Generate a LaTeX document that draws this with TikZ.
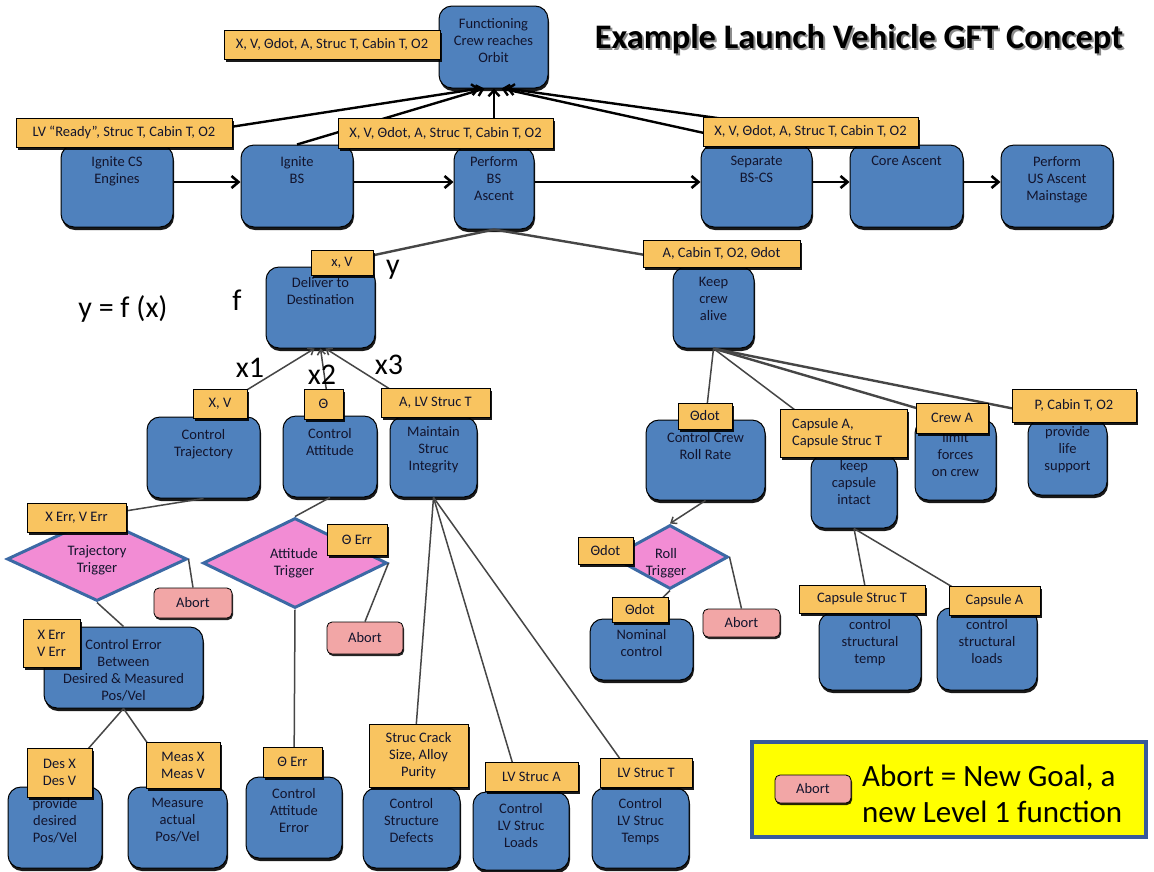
\documentclass[tikz,border=0pt]{standalone}
\usepackage{fontspec}
\setmainfont{Carlito}
\usetikzlibrary{shapes.geometric,fit,shadows,arrows.meta,calc}
\definecolor{boxblue}{RGB}{79,129,189}
\definecolor{lblorange}{RGB}{249,196,96}
\definecolor{diapink}{RGB}{242,140,212}
\definecolor{diaborder}{RGB}{60,105,165}
\definecolor{abortpink}{RGB}{242,166,166}
\definecolor{legyellow}{RGB}{255,255,0}
\definecolor{legborder}{RGB}{55,90,155}
\definecolor{txtdark}{RGB}{18,20,45}
\definecolor{linegray}{RGB}{70,70,70}
\newcommand\BlueBox[7]{\node[bluebox, fit={(#2,#3) (#4,#5)}] (#1) {};
  \node[btext, anchor=north] (#1-t) at ({(#2+#4)/2},{#6-7}) {#7};}
\newcommand\OrLabel[6]{\node[lbl, fit={(#2,#3) (#4,#5)}] (#1) {};
  \node[ltext] (#1-t) at (#1.center) {#6};}
\newcommand\AbortBox[5]{\node[abortbox, fit={(#2,#3) (#4,#5)}] (#1) {};
  \node[ltext] (#1-t) at (#1.center) {Abort};}
\begin{document}
\begin{tikzpicture}[x=1pt,y=-1pt,
  bluebox/.style={draw=black, line width=1pt, fill=boxblue, rounded corners=13pt, inner sep=0pt,
     drop shadow={shadow xshift=1pt,shadow yshift=-3pt,opacity=0.9,fill=black}},
  btext/.style={font=\fontsize{14.5}{17}\selectfont, align=center, inner sep=0pt, text=txtdark},
  lbl/.style={draw=black, line width=1pt, fill=lblorange, inner sep=0pt,
     drop shadow={shadow xshift=1.5pt,shadow yshift=-2.5pt,opacity=0.9,fill=black}},
  ltext/.style={font=\fontsize{14.5}{17}\selectfont, align=center, inner sep=0pt, text=txtdark},
  abortbox/.style={draw=black, line width=0.8pt, fill=abortpink, rounded corners=5pt, inner sep=0pt,
     drop shadow={shadow xshift=1pt,shadow yshift=-2pt,opacity=0.85,fill=black}},
  dia/.style={shape=diamond, draw=diaborder, line width=3pt, fill=diapink, inner sep=0pt},
  mathlbl/.style={font=\fontsize{30}{34}\selectfont, inner sep=0pt},
  conn/.style={draw=linegray, line width=1.5pt},
  thickconn/.style={draw=linegray, line width=2.4pt},
  toparrow/.style={draw=black, line width=2.4pt, -{Straight Barb[length=6pt,width=11pt]}},
  rowarrow/.style={draw=black, line width=2.6pt, -{Straight Barb[length=7pt,width=12pt]}},
  smallarrow/.style={draw=linegray, line width=1.5pt, -{Straight Barb[length=5pt,width=8pt]}}
]
\fill[white] (0,0) rectangle (1154,871);
\useasboundingbox (0,0) rectangle (1154,871);

% title
\node[font=\bfseries\fontsize{34.4}{40}\selectfont, text=black!45, inner sep=0pt] (title-s) at (861,41) {Example Launch Vehicle GFT Concept};
\node[font=\bfseries\fontsize{34.4}{40}\selectfont, text=black, inner sep=0pt] (title) at (859,39) {Example Launch Vehicle GFT Concept};

% blue boxes
\BlueBox{func}{439}{6}{548}{88}{25}{Functioning\\Crew reaches\\Orbit}
\BlueBox{igcs}{61}{145}{173}{227}{163}{Ignite CS\\Engines}
\BlueBox{igbs}{241}{145}{353}{227}{163}{Ignite\\BS}
\BlueBox{pbs}{454}{147}{534}{229}{163}{Perform\\BS\\Ascent}
\BlueBox{sep}{701}{145}{812}{227}{163}{Separate\\BS-CS}
\BlueBox{core}{850}{145}{963}{227}{163}{Core Ascent}
\BlueBox{pus}{1001}{145}{1113}{227}{163}{Perform\\US Ascent\\Mainstage}
\BlueBox{deliver}{266}{267}{375}{348}{284}{Deliver to\\Destination}
\BlueBox{keep}{673}{267}{754}{348}{284}{Keep\\crew\\alive}
\BlueBox{ctraj}{147}{417}{260}{498}{436}{Control\\Trajectory}
\BlueBox{catt}{283}{416}{377}{497}{435}{Control\\Attitude}
\BlueBox{mstruc}{390}{417}{477}{497}{433}{Maintain\\Struc\\Integrity}
\BlueBox{roll}{646}{420}{765}{500}{439}{Control Crew\\Roll Rate}
\BlueBox{capint}{811}{455}{897}{528}{467}{keep\\capsule\\intact}
\BlueBox{limit}{915}{420}{996}{500}{439}{limit\\forces\\on crew}
\BlueBox{life}{1028}{420}{1107}{495}{433}{provide\\life\\support}
\BlueBox{cerr}{44}{627}{203}{708}{646}{Control Error\\Between\\Desired \& Measured\\Pos/Vel}
\BlueBox{pdes}{8}{787}{102}{868}{805}{provide\\desired\\Pos/Vel}
\BlueBox{meas}{128}{787}{227}{868}{805}{Measure\\actual\\Pos/Vel}
\BlueBox{caerr}{246}{777}{342}{858}{795}{Control\\Attitude\\Error}
\BlueBox{csd}{363}{788}{460}{868}{805}{Control\\Structure\\Defects}
\BlueBox{cll}{473}{792}{569}{870}{810}{Control\\LV Struc\\Loads}
\BlueBox{clt}{592}{788}{689}{868}{805}{Control\\LV Struc\\Temps}
\BlueBox{nom}{590}{619}{693}{680}{636}{Nominal\\control}
\BlueBox{cst}{819}{613}{921}{690}{626}{control\\structural\\temp}
\BlueBox{csl}{937}{608}{1037}{690}{626}{control\\structural\\loads}

% diamonds
\node[dia, minimum width=180pt, minimum height=84pt] (trajtrig) at (97,559) {};
\node[btext] (trajtrig-t) at (97,560) {Trajectory\\Trigger};
\node[dia, minimum width=184pt, minimum height=90pt] (atttrig) at (295,563) {};
\node[btext] (atttrig-t) at (294,563) {Attitude\\Trigger};
\node[dia, minimum width=116pt, minimum height=64pt] (rolltrig) at (670,557) {};
\node[btext] (rolltrig-t) at (666,563) {Roll\\Trigger};

% aborts
\AbortBox{abort1}{154}{588}{232}{618}
\AbortBox{abort2}{327}{622}{403}{654}
\AbortBox{abort3}{703}{609}{780}{637}

% connectors to top goal
\draw[toparrow] (igcs.north) -- ($(func.south)+(-14,0)$);
\draw[toparrow] (igbs.north) -- ($(func.south)+(-9,0)$);
\draw[toparrow] (pbs.north) -- (pbs.north |- func.south);
\draw[toparrow] (sep.north) -- ($(func.south)+(8,0)$);
\draw[toparrow] (core.north) -- ($(func.south)+(13,0)$);
% row arrows
\draw[rowarrow] ($(igcs.east)+(0,-4)$) -- ($(igbs.west)+(0,-4)$);
\draw[rowarrow] ($(igbs.east)+(0,-4)$) -- ($(igbs.east -| pbs.west)+(0,-4)$);
\draw[rowarrow] ($(pbs.east |- igbs.east)+(0,-4)$) -- ($(igbs.east -| sep.west)+(0,-4)$);
\draw[rowarrow] ($(sep.east)+(0,-4)$) -- ($(core.west)+(0,-4)$);
\draw[rowarrow] ($(core.east)+(0,-4)$) -- ($(pus.west)+(0,-4)$);
% middle
\draw[thickconn] (pbs.south) -- (deliver.north);
\draw[thickconn] (pbs.south) -- (keep.north);
\draw[smallarrow] (ctraj.north) -- ($(deliver.south)+(-6,0)$);
\draw[smallarrow] (catt.north) -- (deliver.south);
\draw[smallarrow] (mstruc.north) -- ($(deliver.south)+(5,0)$);
\draw[conn] (keep.south) -- (roll.north);
\draw[conn] (keep.south) -- (capint.north);
\draw[thickconn] (keep.south) -- (limit.north);
\draw[thickconn] (keep.south) -- (life.north);
\draw[conn] (ctraj.south) -- (trajtrig.north);
\draw[conn] (catt.south) -- (atttrig.north);
\draw[conn] (trajtrig.east) -- (abort1.north);
\draw[conn] (trajtrig.south) -- (cerr.north);
\draw[conn] (atttrig.east) -- (abort2.north);
\draw[conn] (atttrig.south) -- (caerr.north);
\draw[conn] (cerr.south) -- (pdes.north);
\draw[conn] (cerr.south) -- (meas.north);
\draw[conn] (mstruc.south) -- (csd.north);
\draw[conn] (mstruc.south) -- (cll.north);
\draw[conn] (mstruc.south) -- (clt.north);
\draw[smallarrow] (roll.south) -- (rolltrig.north);
\draw[conn] (rolltrig.south) -- (nom.north);
\draw[conn] (rolltrig.east) -- (abort3.north);
\draw[conn] (capint.south) -- (cst.north);
\draw[conn] (capint.south) -- (csl.north);

% labels
\OrLabel{lfunc}{224}{30}{440}{59}{X, V, Θdot, A, Struc T, Cabin T, O2}
\OrLabel{lready}{16}{118}{232}{147}{LV “Ready”, Struc T, Cabin T, O2}
\OrLabel{lpbs}{338}{118}{553}{148}{X, V, Θdot, A, Struc T, Cabin T, O2}
\OrLabel{lsep}{703}{117}{918}{146}{X, V, Θdot, A, Struc T, Cabin T, O2}
\OrLabel{ldel}{311}{250}{373}{275}{x, V}
\OrLabel{lkeep}{643}{240}{800}{267}{A, Cabin T, O2, Θdot}
\OrLabel{lctraj}{193}{389}{247}{418}{X, V}
\OrLabel{lcatt}{304}{389}{343}{419}{Θ}
\OrLabel{lmstruc}{381}{388}{490}{417}{A, LV Struc T}
\OrLabel{lroll}{678}{403}{732}{429}{Θdot}
\node[lbl, fit={(780,409) (907,457)}] (lcapint) {};
\node[ltext, align=left, anchor=west] (lcapint-t) at (792,433) {Capsule A,\\Capsule Struc T};
\OrLabel{llimit}{916}{403}{988}{433}{Crew A}
\OrLabel{llife}{1012}{389}{1136}{422}{P, Cabin T, O2}
\OrLabel{ltraj}{27}{503}{126}{532}{X Err, V Err}
\OrLabel{latt}{327}{524}{387}{555}{Θ Err}
\OrLabel{lcerr}{23}{619}{80}{667}{X Err\\V Err}
\OrLabel{lpdes}{27}{748}{92}{797}{Des X\\Des V}
\OrLabel{lmeas}{146}{742}{220}{788}{Meas X\\Meas V}
\OrLabel{lcaerr}{263}{747}{322}{777}{Θ Err}
\OrLabel{lcsd}{369}{724}{468}{787}{Struc Crack\\Size, Alloy\\Purity}
\OrLabel{lcll}{485}{762}{578}{791}{LV Struc A}
\OrLabel{lclt}{600}{758}{692}{787}{LV Struc T}
\OrLabel{lrolltrig}{578}{537}{633}{564}{Θdot}
\OrLabel{lnom}{612}{597}{668}{622}{Θdot}
\OrLabel{lcst}{799}{585}{925}{613}{Capsule Struc T}
\OrLabel{lcsl}{949}{586}{1040}{615}{Capsule A}

% y = f(x) annotations
\node[mathlbl] (yfx) at (123,309) {y = f (x)};
\node[mathlbl] (fsym) at (237,300) {f};
\node[mathlbl] (ysym) at (393,270) {y};
\node[mathlbl] (x1) at (250,368) {x1};
\node[mathlbl] (x2) at (322,375) {x2};
\node[mathlbl] (x3) at (389,365) {x3};

% legend
\node[fill=legyellow, draw=legborder, line width=4pt, inner sep=0pt, fit={(752,742) (1146,837)}] (legend) {};
\AbortBox{abortleg}{775}{775}{851}{803}
\node[font=\fontsize{31}{36}\selectfont, align=left, anchor=west, inner sep=0pt] (legtext) at (862,794) {Abort = New Goal, a\\new Level 1 function};
\end{tikzpicture}
\end{document}
